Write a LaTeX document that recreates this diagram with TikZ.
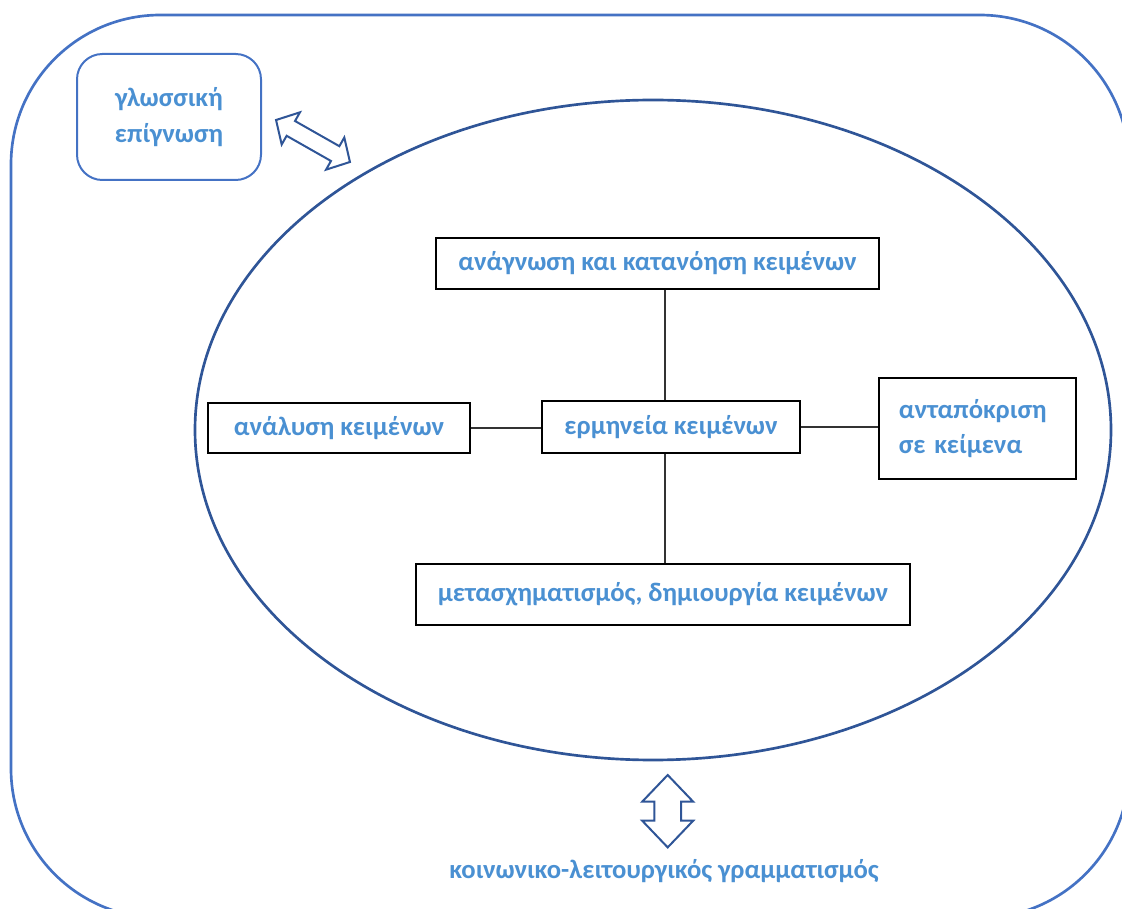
\documentclass[tikz,border=0pt]{standalone}
\usepackage{fontspec}
\setmainfont{Carlito}
\usetikzlibrary{shapes.geometric}
\definecolor{txtblue}{RGB}{74,144,210}
\definecolor{frameblue}{RGB}{68,114,196}
\definecolor{ringblue}{RGB}{47,85,151}

\begin{document}
\begin{tikzpicture}[x=0.75pt,y=-0.75pt]
  \tikzstyle{every node}=[font=\fontsize{20}{24}\selectfont\bfseries, text=txtblue]
  \tikzstyle{field}=[draw=black, line width=1.2pt, rectangle, inner sep=0pt]
  \tikzstyle{twoway}=[draw=ringblue, line width=1.5pt, fill=white, line join=miter]
  \useasboundingbox (0,0) rectangle (1122,909);
  \clip (0,0) rectangle (1122,909);

  % outer frame and ring
  \draw[frameblue, line width=2pt, rounded corners=112pt] (11,15) rectangle (1129,918);
  \node[ellipse, draw=ringblue, line width=2pt, minimum width=687pt, minimum height=495pt, inner sep=0pt] (ring) at (653,430) {};

  % top left box
  \node[draw=frameblue, line width=1.5pt, rounded corners=19pt, minimum width=138pt, minimum height=94.5pt,
        align=center] (epig) at (169,117) {γλωσσική\\[3pt]επίγνωση};

  % text boxes
  \node[field, minimum width=332pt, minimum height=38pt] (read) at (657.5,263.5) {ανάγνωση και κατανόηση κειμένων};
  \node[field, minimum width=193.5pt, minimum height=39pt] (interp) at (671,427) {ερμηνεία κειμένων};
  \node[field, minimum width=196.5pt, minimum height=37.5pt] (anal) at (339,428) {ανάλυση κειμένων};
  \node[field, minimum width=148pt, minimum height=76pt, align=left, text width=118pt] (resp) at (977.5,428.5) {ανταπόκριση\\[2pt]σε κείμενα};
  \node[field, minimum width=370.5pt, minimum height=46pt] (transf) at (663,594.5) {μετασχηματισμός, δημιουργία κειμένων};

  \coordinate (axis) at (665,0);
  \draw[black!80, line width=0.8pt] (read.south -| axis) -- (interp.north -| axis);
  \draw[black!80, line width=0.8pt] (interp.south -| axis) -- (transf.north -| axis);
  \draw[black!80, line width=0.8pt] (anal.east) -- (anal.east -| interp.west);
  \draw[black!80, line width=0.8pt] (interp.east) -- (interp.east -| resp.west);

  % double arrows
  \begin{scope}[shift={(313,141)}, rotate=-29.6]
    \draw[twoway] (-42.5,0) -- (-25.5,-18.5) -- (-25.5,-8.5) -- (25.5,-8.5) -- (25.5,-18.5) -- (42.5,0)
                  -- (25.5,18.5) -- (25.5,8.5) -- (-25.5,8.5) -- (-25.5,18.5) -- cycle;
  \end{scope}
  \begin{scope}[shift={(667.7,811.2)}]
    \draw[twoway] (0,-36.2) -- (25.5,-9.5) -- (13.3,-9.5) -- (13.3,9.5) -- (25.5,9.5) -- (0,36.2)
                  -- (-25.5,9.5) -- (-13.3,9.5) -- (-13.3,-9.5) -- (-25.5,-9.5) -- cycle;
  \end{scope}

  \node (social) at (664,871) {κοινωνικο-λειτουργικός γραμματισμός};
\end{tikzpicture}
\end{document}
